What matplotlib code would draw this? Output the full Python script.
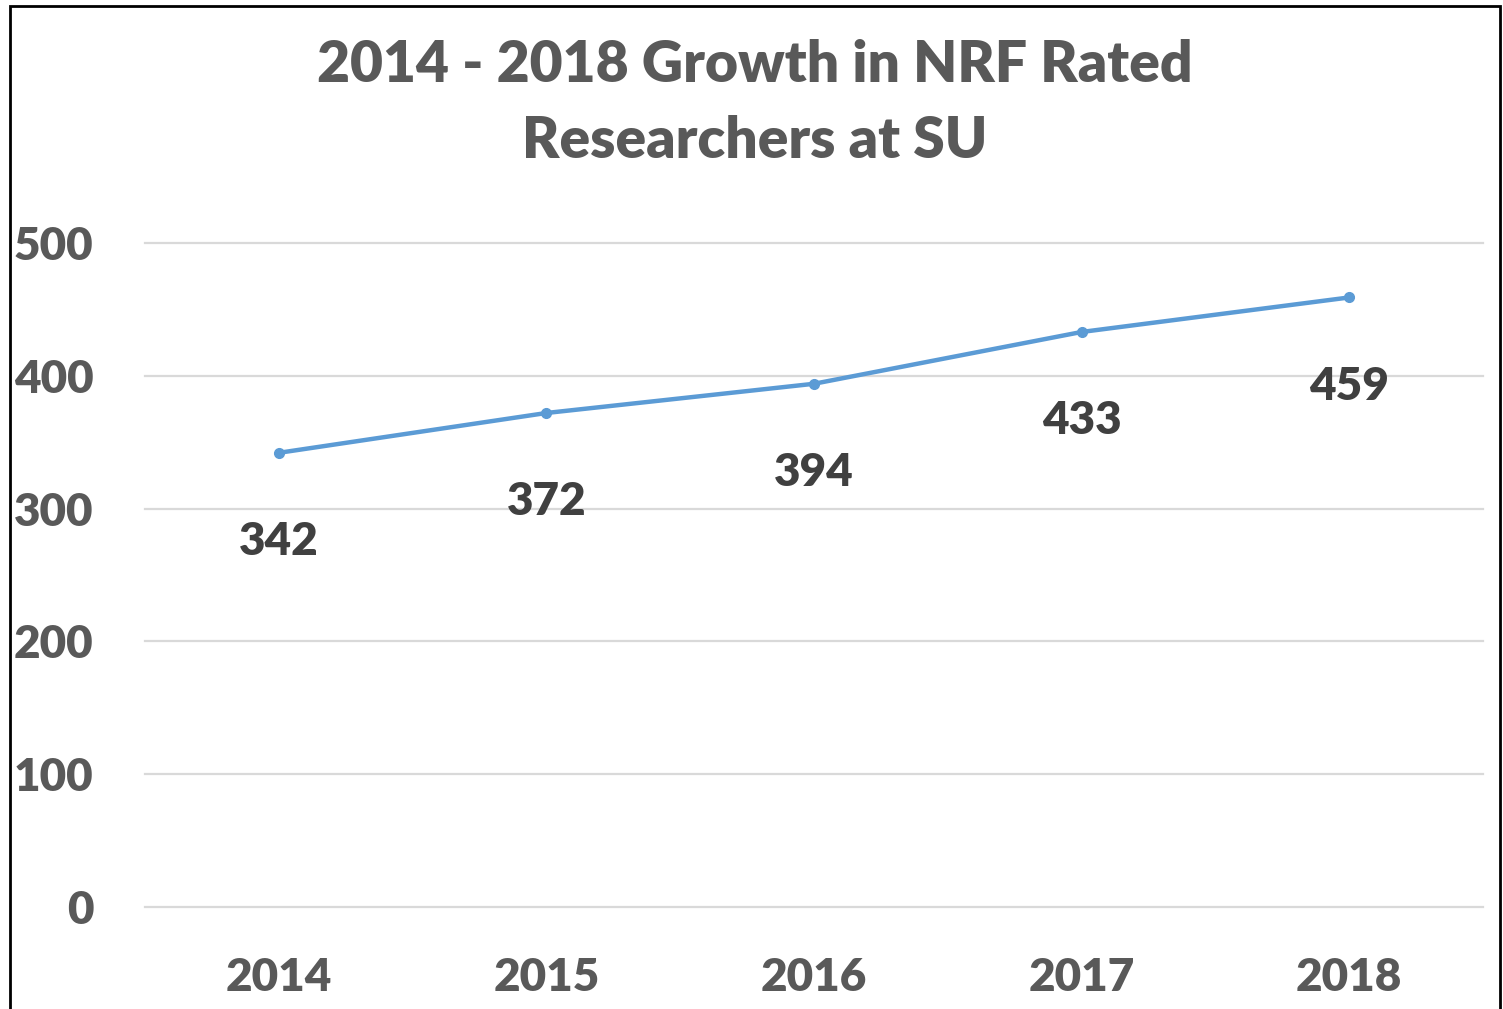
import matplotlib
matplotlib.use('Agg')
import matplotlib.pyplot as plt
from matplotlib.patches import Rectangle

years = ['2014', '2015', '2016', '2017', '2018']
researchers = [342, 372, 394, 433, 459]
y_ticks = [0, 100, 200, 300, 400, 500]

LINE = '#5B9BD5'
GREY = '#595959'
DARK = '#404040'
FONT = 'Lato'
WEIGHT = 'heavy'

W, H = 1503, 1009
fig = plt.figure(figsize=(W / 100, H / 100), dpi=100)
ax = fig.add_axes([145 / W, 1 - 907 / H, (1483 - 145) / W, (907 - 243) / H])

x = range(len(years))
ax.plot(x, researchers, color=LINE, linewidth=3.2, marker='o', markersize=7,
        solid_capstyle='round', zorder=3)
for xi, v in zip(x, researchers):
    ax.annotate(str(v), (xi, v), xytext=(0, -64), textcoords='offset points',
                ha='center', va='center', fontsize=33, fontweight=WEIGHT,
                color=DARK, family=FONT)

ax.set_xlim(-0.5, len(years) - 0.5)
ax.set_ylim(0, 500)
ax.set_yticks(y_ticks)
ax.set_xticks(list(x))
ax.set_xticklabels(years)
ax.grid(axis='y', color='#D9D9D9', linewidth=1.6)
for gl in ax.get_ygridlines():
    gl.set_clip_on(False)
ax.set_axisbelow(True)
for s in ax.spines.values():
    s.set_visible(False)
ax.tick_params(length=0, labelsize=33, labelcolor=GREY)
ax.tick_params(axis='y', pad=37)
ax.tick_params(axis='x', pad=36)
for lab in ax.get_xticklabels() + ax.get_yticklabels():
    lab.set_fontweight(WEIGHT)
    lab.set_family(FONT)

fig.text(755 / W, 1 - 103 / H, '2014 - 2018 Growth in NRF Rated\nResearchers at SU',
         ha='center', va='center', fontsize=41, fontweight=WEIGHT, color=GREY,
         family=FONT, linespacing=1.55)

fig.patches.append(Rectangle((10 / W, -0.05), (1500 - 10) / W, 1.05 - 6 / H,
                             transform=fig.transFigure, fill=False,
                             edgecolor='black', linewidth=2))

fig.savefig('out.png', dpi=100)
